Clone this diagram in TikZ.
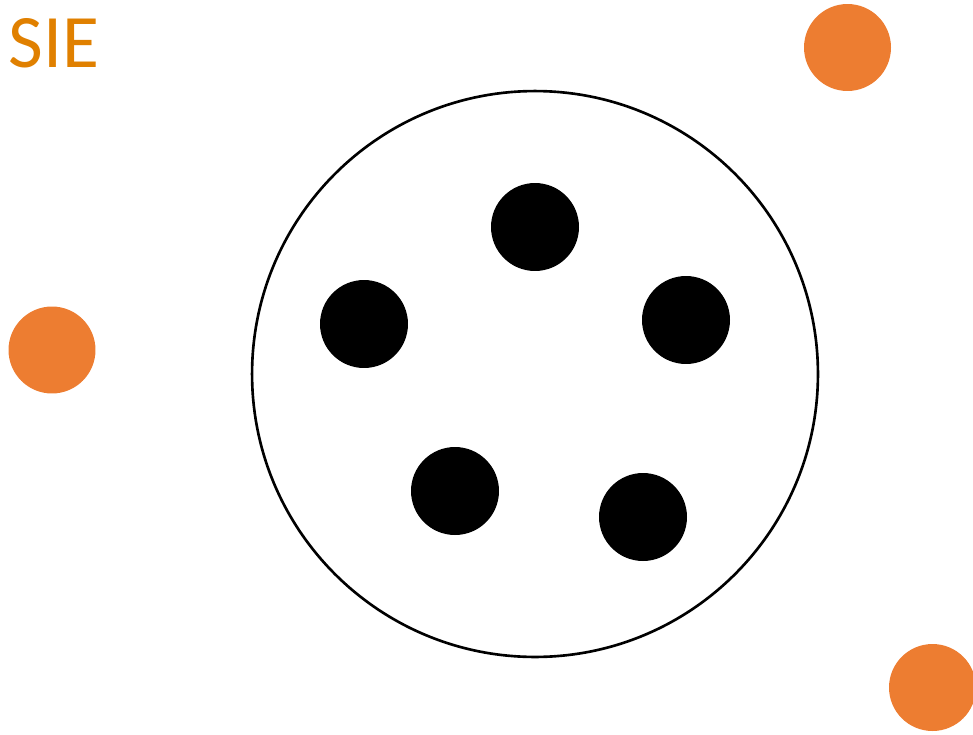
\documentclass[tikz,border=0pt]{standalone}
\usepackage{fontspec}
\setmainfont{Carlito}
\usepackage{tikz}
\usetikzlibrary{positioning}
\definecolor{sieorange}{RGB}{237,125,49}
\definecolor{sietext}{RGB}{224,128,0}

\begin{document}
\begin{tikzpicture}[
    x=0.02cm, y=-0.02cm,
    %% -- Node styles ------------------------------------------------------
    %%
    %% cell: the large outlined circle holding the particles.
    cell/.style={
        draw, circle,
        line width=1.5pt,
        minimum size=11.32cm,
        inner sep=0pt,
    },
    %% particle: filled black dot inside the cell.
    particle/.style={
        circle, fill=black,
        minimum size=1.76cm,
        inner sep=0pt,
    },
    %% outsider: filled orange dot outside the cell.
    outsider/.style={
        circle, fill=sieorange,
        minimum size=1.74cm,
        inner sep=0pt,
    },
    %% title: label in the top-left corner.
    title/.style={font=\fontsize{43}{43}\selectfont, text=sietext, inner sep=0pt, anchor=base west},
]
\useasboundingbox (0,0) rectangle (973,734);

%% -- Place nodes here -----------------------------------------------------

\node[title]    (Title)  at (8,67) {SIE};

\node[cell]     (Cell)   at (535,374) {};

\node[particle] (P_Top)      at (535,227) {};
\node[particle] (P_Left)     at (364,324) {};
\node[particle] (P_Right)    at (686,320) {};
\node[particle] (P_LowLeft)  at (455,491) {};
\node[particle] (P_LowRight) at (643,517) {};

\node[outsider] (O_TopRight)    at (847.5,47.5) {};
\node[outsider] (O_Left)        at (52,350) {};
\node[outsider] (O_BottomRight) at (932.5,687.5) {};

\end{tikzpicture}
\end{document}
